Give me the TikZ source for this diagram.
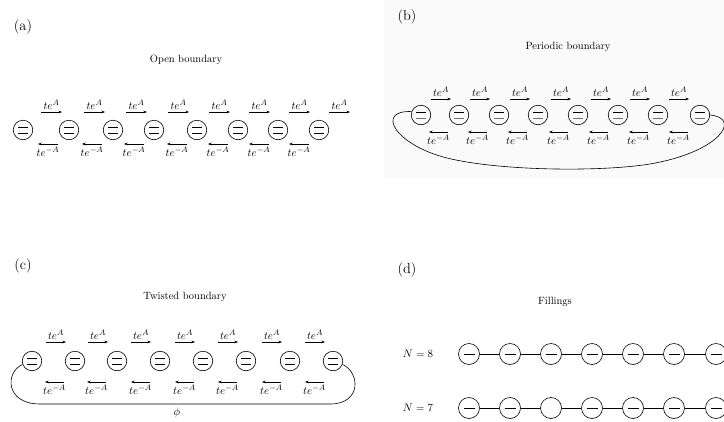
\documentclass[tikz,border=0pt]{standalone}
\usetikzlibrary{arrows.meta}
\begin{document}
\begin{tikzpicture}[x=1pt,y=-1pt,
  site/.style={circle, draw, line width=0.6pt, minimum size=19.5pt, inner sep=0pt},
  twobars/.style={site, path picture={
      \draw[line width=0.7pt] ([xshift=-4.8pt,yshift=3pt]path picture bounding box.center) -- ++(9.6pt,0pt);
      \draw[line width=0.7pt] ([xshift=-4.8pt,yshift=-3pt]path picture bounding box.center) -- ++(9.6pt,0pt);}},
  twobarsgray/.style={site, path picture={
      \draw[line width=0.7pt] ([xshift=-4.8pt,yshift=3pt]path picture bounding box.center) -- ++(9.6pt,0pt);
      \draw[line width=1pt, black!55] ([xshift=-4.8pt,yshift=-3pt]path picture bounding box.center) -- ++(9.6pt,0pt);}},
  fillsite/.style={site, minimum size=21pt},
  onebar/.style={fillsite, path picture={
      \draw[line width=0.7pt] ([xshift=-5.5pt]path picture bounding box.center) -- ++(11pt,0pt);}},
  hop/.style={line width=0.6pt, -{Stealth[length=3.6pt,width=2.8pt]}},
  hoplbl/.style={font=\fontsize{11}{13}\selectfont, inner sep=2pt},
  hoplblb/.style={hoplbl, inner sep=3pt},
  panel/.style={font=\fontsize{14.4}{16}\selectfont},
  title/.style={font=\fontsize{10.5}{12}\selectfont},
  chain/.style={line width=0.6pt}
]
\useasboundingbox (0,0) rectangle (724,421);
\fill[black!2] (384,0) rectangle (724,178);

% ---------------- (a) open boundary ----------------
\node[panel] (la) at (23,27) {(a)};
\node[title] (ta) at (186,60) {Open boundary};
\foreach \x [count=\i] in {23,69,113,154,197,238,278,319}
  \node[twobars] (a\i) at (\x,130) {};
\foreach \x in {41,84,126,168,209,249,289,329}
  \draw[hop] (\x,112) -- ++(21,0) node[midway,above,hoplbl] {$te^{A}$};
\foreach \x in {58,102,144,187,228,269,309}
  \draw[hop] (\x,144) -- ++(-20,0) node[midway,below,hoplblb] {$te^{-A}$};

% ---------------- (b) periodic boundary ----------------
\node[panel] (lb) at (407,17) {(b)};
\node[title] (tb) at (568,47) {Periodic boundary};
\foreach \x [count=\i] in {421,459,499,538,578,618,658,700}
  \node[twobarsgray] (b\i) at (\x,115) {};
\foreach \x in {431,470,510,551,591,630,669}
  \draw[hop] (\x,99) -- ++(20,0) node[midway,above,hoplbl] {$te^{A}$};
\foreach \x in {448,487,527,568,608,648,688}
  \draw[hop] (\x,132) -- ++(-19,0) node[midway,below,hoplblb] {$te^{-A}$};
\draw[line width=0.6pt] (b1.160) .. controls (375,110) and (395,145) .. (447,158)
  .. controls (500,171) and (600,172) .. (650,164)
  .. controls (720,152) and (742,118) .. (b8.east);

% ---------------- (c) twisted boundary ----------------
\node[panel] (lc) at (23,266) {(c)};
\node[title] (tc) at (185,297) {Twisted boundary};
\foreach \x [count=\i] in {32,75,117,160,203,246,290,333}
  \node[twobars] (c\i) at (\x,361) {};
\foreach \x in {46,88,131,175,218,262,305}
  \draw[hop] (\x,342) -- ++(20,0) node[midway,above,hoplbl] {$te^{A}$};
\foreach \x in {64,106,150,194,237,281,324}
  \draw[hop] (\x,382) -- ++(-19,0) node[midway,below,hoplblb] {$te^{-A}$};
\draw[line width=0.6pt] (c1.200) .. controls (5,372) and (5,404) .. (40,404)
  -- (330,404) .. controls (362,404) and (360,372) .. (c8.-20);
\node[title] (phi) at (177,413) {$\phi$};

% ---------------- (d) fillings ----------------
\node[panel] (ld) at (407,270) {(d)};
\node[title] (td) at (555,302) {Fillings};
\node[font=\fontsize{11}{13}\selectfont] (n8) at (418,354) {$N=8$};
\node[font=\fontsize{11}{13}\selectfont] (n7) at (418,408) {$N=7$};
\foreach \x [count=\i] in {469,510,551,592,633,674,716}
  \node[onebar] (p\i) at (\x,354) {};
\foreach \x/\s [count=\i] in {469/onebar,510/onebar,551/fillsite,592/onebar,633/onebar,674/onebar,716/onebar}
  \node[\s] (q\i) at (\x,408) {};
\foreach \i [evaluate=\i as \j using int(\i+1)] in {1,...,6} {
  \draw[chain] (p\i) -- (p\j);
  \draw[chain] (q\i) -- (q\j);
}
\end{tikzpicture}
\end{document}
